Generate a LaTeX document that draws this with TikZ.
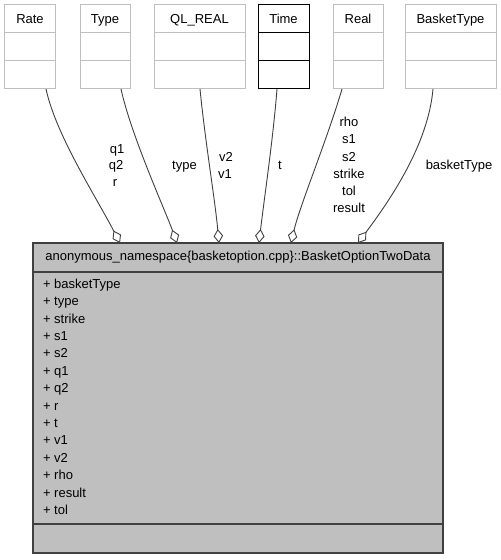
\documentclass[tikz,border=0pt]{standalone}
\usepackage{fontspec}
\setmainfont{Liberation Sans}
\usetikzlibrary{arrows.meta}
\definecolor{boxgray}{HTML}{BFBFBF}
\definecolor{edgegray}{HTML}{404040}
\begin{document}
\begin{tikzpicture}[x=1bp,y=-1bp,
  every node/.style={font=\fontsize{13bp}{17.3bp}\selectfont, inner sep=0pt, outer sep=0pt},
  topbox/.style={draw=boxgray, line width=1bp, minimum height=84bp, fill=white},
  timebox/.style={draw=black, line width=1bp, minimum height=84bp, fill=white},
  mainbox/.style={draw=edgegray, fill=boxgray, line width=1.2bp},
  divl/.style={draw=boxgray, line width=1bp},
  divt/.style={draw=black, line width=1bp},
  divm/.style={draw=edgegray, line width=1.2bp},
  edge/.style={draw=edgegray, line width=0.9bp, -{Diamond[open, length=14bp, width=9.5bp]}},
  txt/.style={anchor=base}]
\useasboundingbox[fill=white] (0,0) rectangle (501,560);

% top boxes
\node[topbox, minimum width=50bp] (rate) at (30,47) {};
\node[topbox, minimum width=50bp] (type) at (105,47) {};
\node[topbox, minimum width=91bp] (qlreal) at (199.5,47) {};
\node[timebox, minimum width=51bp] (time) at (283.5,47) {};
\node[topbox, minimum width=50bp] (real) at (358,47) {};
\node[topbox, minimum width=91bp] (basket) at (450.5,47) {};

\foreach \b in {rate,type,qlreal,real,basket}{
  \draw[divl] (\b.west |- 0,33) -- (\b.east |- 0,33);
  \draw[divl] (\b.west |- 0,61) -- (\b.east |- 0,61);
}
\draw[divt] (time.west |- 0,33) -- (time.east |- 0,33);
\draw[divt] (time.west |- 0,61) -- (time.east |- 0,61);

\node[txt] (ratet) at (30,23.3) {Rate};
\node[txt] (typet) at (105,23.3) {Type};
\node[txt] (qlrealt) at (199.5,23.3) {QL\_REAL};
\node[txt] (timet) at (283.5,23.3) {Time};
\node[txt] (realt) at (358,23.3) {Real};
\node[txt] (baskett) at (450.5,23.3) {BasketType};

% main box
\node[mainbox, minimum width=410bp, minimum height=310bp] (main) at (238,398) {};
\draw[divm] (main.west |- 0,272) -- (main.east |- 0,272);
\draw[divm] (main.west |- 0,524) -- (main.east |- 0,524);
\node[txt] (title) at (238,260.7) {anonymous\_namespace\{basketoption.cpp\}::BasketOptionTwoData};
\foreach \a [count=\i from 0] in {basketType,type,strike,s1,s2,q1,q2,r,t,v1,v2,rho,result,tol}{
  \node[anchor=base west] (attr\i) at (43,{288.3+17.4*\i}) {+ \a};
}

% edges
\draw[edge] ([xshift=16bp]rate.south) .. controls (56,135) and (95,195) .. ([xshift=-118bp]main.north);
\draw[edge] ([xshift=16bp]type.south) .. controls (131,135) and (165,210) .. ([xshift=-61bp]main.north);
\draw[edge] ([xshift=0.5bp]qlreal.south) .. controls (205,140) and (215,200) .. ([xshift=-19bp]main.north);
\draw[edge] ([xshift=-6.5bp]time.south) .. controls (273,140) and (264,200) .. ([xshift=21bp]main.north);
\draw[edge] ([xshift=-16bp]real.south) .. controls (327,140) and (300,205) .. ([xshift=53bp]main.north);
\draw[edge] ([xshift=-17.5bp]basket.south) .. controls (428,145) and (390,200) .. ([xshift=120bp]main.north);

% edge labels
\node[txt] (lq1) at (117,153.3) {q1};
\node[txt] (lq2) at (116,170) {q2};
\node[txt] (lr) at (115,186.7) {r};
\node[txt] (ltype) at (184.5,170) {type};
\node[txt] (lv2) at (226,161.5) {v2};
\node[txt] (lv1) at (225,179) {v1};
\node[txt] (lt) at (280,170) {t};
\node[txt] (lrho) at (349,126.7) {rho};
\node[txt] (ls1) at (349,144) {s1};
\node[txt] (ls2) at (349,161.2) {s2};
\node[txt] (lstrike) at (349,178.4) {strike};
\node[txt] (ltol) at (349,195.6) {tol};
\node[txt] (lresult) at (349,212.8) {result};
\node[txt] (lbasket) at (459,170) {basketType};
\end{tikzpicture}
\end{document}
